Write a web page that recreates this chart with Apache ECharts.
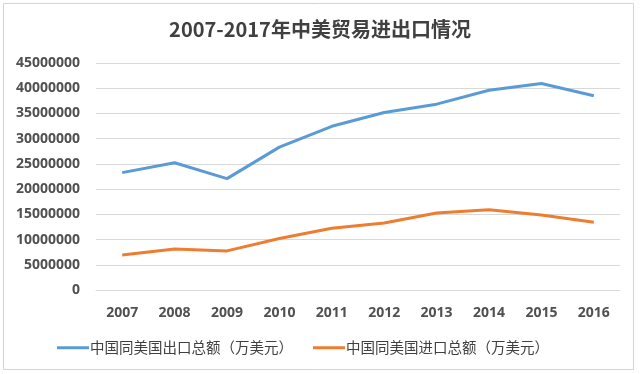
<!DOCTYPE html>
<html><head><meta charset="utf-8">
<script src="https://cdn.jsdelivr.net/npm/echarts@6/dist/echarts.min.js"></script>
<style>html,body{margin:0;padding:0;background:#fff}#c{width:640px;height:374px}</style>
</head><body><div id="c"></div>
<script>
const years = ['2007','2008','2009','2010','2011','2012','2013','2014','2015','2016'];
const exportsUS = [23270446, 25229708, 22082014, 28330148, 32449286, 35177972, 36838262, 39608200, 40947500, 38512000];
const importsUS = [6937960, 8146264, 7749693, 10209992, 12245315, 13289869, 15249500, 15904100, 14876500, 13444000];
const seriesNames = ['中国同美国出口总额（万美元）', '中国同美国进口总额（万美元）'];
const titleText = '2007-2017年中美贸易进出口情况';

const chart = echarts.init(document.getElementById('c'));
chart.setOption({
  animation: false,
  backgroundColor: '#fff',
  graphic: [{type:'rect', shape:{x:3.5,y:3.5,width:630,height:366}, style:{fill:'none', stroke:'#d4d4d4', lineWidth:1}, silent:true}],
  title: {text: titleText, left: 'center', top: 14,
    textStyle: {fontFamily: '"Noto Sans CJK SC", sans-serif', fontSize: 20, fontWeight: 'bold', color: '#404040'}},
  grid: {left: 96, right: 20, top: 63, bottom: 84},
  legend: {bottom: 14, left: 52, itemWidth: 32, itemHeight: 3, itemGap: 20, icon: 'rect',
    textStyle: {fontFamily: '"Noto Sans CJK SC", sans-serif', fontSize: 14.5, color: '#404040', padding:[0,0,0,-4]},
    data: seriesNames},
  xAxis: {type: 'category', data: years, boundaryGap: true,
    axisLine: {show: true, lineStyle: {color: '#d9d9d9'}}, axisTick: {show: false},
    axisLabel: {margin: 16, fontFamily: '"Open Sans", sans-serif', fontSize: 14, fontWeight: 'bold', color: '#505050'}},
  yAxis: {type: 'value', min: 0, max: 45000000, interval: 5000000,
    axisLine: {show: false}, axisTick: {show: false},
    splitLine: {lineStyle: {color: '#d9d9d9', width: 1}},
    axisLabel: {margin: 16, formatter: v => String(v), fontFamily: '"Open Sans", sans-serif', fontSize: 14, fontWeight: 'bold', color: '#505050'}},
  series: [
    {name: seriesNames[0], type: 'line', data: exportsUS, symbol: 'none', lineStyle: {width: 3, color: '#5b9bd5'}, itemStyle: {color: '#5b9bd5'}},
    {name: seriesNames[1], type: 'line', data: importsUS, symbol: 'none', lineStyle: {width: 3, color: '#ed7d31'}, itemStyle: {color: '#ed7d31'}}
  ]
});
</script></body></html>
